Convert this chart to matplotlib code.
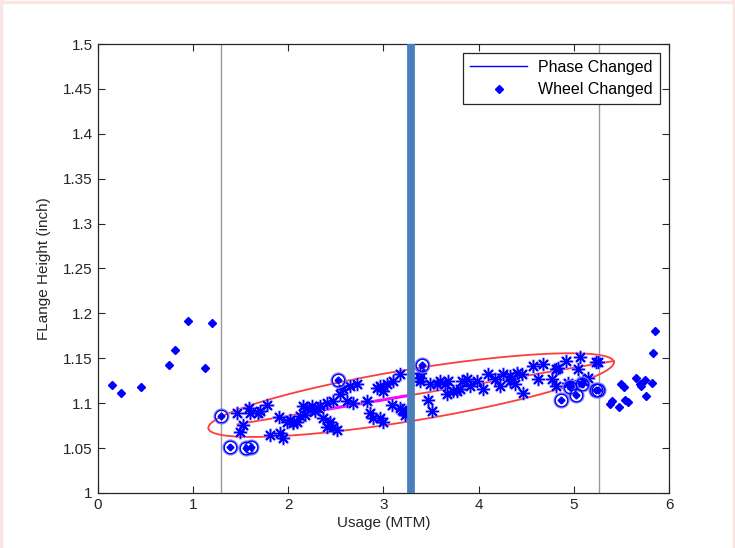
import numpy as np
import matplotlib
matplotlib.use("Agg")
import matplotlib.pyplot as plt
from matplotlib.lines import Line2D

plt.rcParams["font.family"] = ["Liberation Sans", "DejaVu Sans"]

# wheels changed (outside the usage window)
wheel_x = [0.155, 0.25, 0.457, 0.747, 0.816, 0.953, 1.131, 1.205,
           5.85, 5.836, 5.826, 5.763, 5.71, 5.748, 5.658, 5.69,
           5.567, 5.535, 5.475, 5.402, 5.375, 5.50, 5.528]
wheel_y = [1.120, 1.111, 1.118, 1.142, 1.159, 1.191, 1.139, 1.189,
           1.180, 1.156, 1.122, 1.108, 1.119, 1.126, 1.128, 1.121,
           1.101, 1.103, 1.096, 1.102, 1.099, 1.121, 1.118]

# measurements inside the window
meas_x = [1.461, 1.593, 1.600, 1.705, 1.775, 1.530, 1.495, 1.810, 1.915, 1.950,
          1.908, 2.020, 2.090, 2.125, 2.195, 2.248, 2.282, 2.335, 2.405, 2.369,
          2.440, 2.474, 2.510, 2.405, 2.545, 2.579, 2.650, 2.720, 2.474, 2.615,
          2.684, 2.825, 2.859, 2.894, 2.964, 2.999, 2.930, 2.999, 3.035, 3.104,
          3.174, 3.087, 3.192, 3.227, 3.384, 3.489, 3.559, 3.646, 3.471, 3.507,
          3.733, 3.822, 3.909, 3.979, 4.048, 4.101, 4.171, 4.258, 4.328, 4.381,
          4.451, 4.223, 4.468, 4.573, 4.678, 4.625, 4.766, 4.818, 4.835, 4.923,
          5.063, 5.045, 5.238, 4.940, 5.010, 5.098, 5.150, 3.804, 3.681, 3.874,
          2.964, 3.174, 3.245, 3.384, 1.687, 2.055, 3.594, 4.328, 4.399, 4.818,
          3.664, 3.769, 3.384, 1.985, 2.055, 2.177, 2.230, 2.317, 2.160, 5.256]
meas_y = [1.089, 1.0946, 1.089, 1.0909, 1.0984, 1.0758, 1.0683, 1.0646, 1.0664, 1.0607,
          1.0841, 1.0815, 1.0796, 1.0852, 1.0946, 1.0965, 1.0909, 1.0965, 1.1002, 1.0833,
          1.0796, 1.0739, 1.0702, 1.0739, 1.1097, 1.1153, 1.1191, 1.1210, 1.1021, 1.1021,
          1.1002, 1.1021, 1.0889, 1.0833, 1.0833, 1.0796, 1.1172, 1.1134, 1.1210, 1.1247,
          1.1323, 1.0984, 1.0928, 1.0871, 1.1284, 1.1210, 1.1210, 1.1210, 1.1041, 1.0909,
          1.1134, 1.1247, 1.1191, 1.1247, 1.1153, 1.1323, 1.1266, 1.1323, 1.1247, 1.1210,
          1.1323, 1.1191, 1.1115, 1.1416, 1.1436, 1.1266, 1.1266, 1.1191, 1.1397, 1.1473,
          1.1510, 1.1379, 1.1454, 1.1228, 1.1191, 1.1247, 1.1284, 1.1153, 1.1247, 1.1266,
          1.1191, 1.0946, 1.0889, 1.1341, 1.089, 1.0796, 1.1247, 1.1303, 1.1341, 1.1379,
          1.1097, 1.1134, 1.1247, 1.0796, 1.0777, 1.0871, 1.0928, 1.0946, 1.0965, 1.1454]

# circled points
circ_x = [1.296, 1.394, 1.558, 1.607, 2.520, 3.405, 4.869, 5.024, 4.961, 5.087, 5.234, 5.259]
circ_y = [1.0856, 1.051, 1.050, 1.051, 1.1258, 1.1428, 1.1036, 1.1086, 1.118, 1.1217, 1.1142, 1.1142]

# usage window and phase change
window_x = [1.30, 5.26]
phase_x = 3.295

# ellipse and its main axis
ell_cx, ell_cy = 3.292, 1.109
ell_a, ell_tilt, ell_b = 2.129, 0.0365, 0.029
axis_x = [1.47, 5.42]
axis_y = [1.0765, 1.147]
seg_x = [2.37, 3.29]
seg_y = [1.0925, 1.109]

fig = plt.figure(figsize=(7.35, 5.48), dpi=100)
ax = fig.add_axes([0.1327, 0.1004, 0.7776, 0.8193])

for xv in window_x:
    ax.axvline(xv, color="#999999", lw=1.0, zorder=1)

t = np.linspace(0, 2 * np.pi, 300)
ax.plot(ell_cx + ell_a * np.cos(t), ell_cy + ell_tilt * np.cos(t) + ell_b * np.sin(t),
        color="#ff3c3c", lw=1.3, zorder=2)
ax.plot(axis_x, axis_y, color="#ff3c3c", lw=1.3, zorder=2)
ax.plot(seg_x, seg_y, color="#ff00ff", lw=2.2, zorder=2)

# soft halo then the asterisks
ax.plot(meas_x, meas_y, ls="none", marker=(8, 2, 0), ms=10, mew=2.2,
        color="#9a9aff", alpha=0.5, zorder=3)
ax.plot(meas_x, meas_y, ls="none", marker=(8, 2, 0), ms=9, mew=1.0,
        color="#0000ff", zorder=3)
ax.plot(circ_x, circ_y, ls="none", marker="o", ms=10, mfc="none", mew=1.6,
        color="#8080ff", zorder=3)
ax.plot(circ_x, circ_y, ls="none", marker="o", ms=9, mfc="none", mew=0.9,
        color="#0000ff", zorder=3)
ax.plot(circ_x, circ_y, ls="none", marker="D", ms=3.5, color="#0000ff", zorder=3)
ax.plot(wheel_x, wheel_y, ls="none", marker="D", ms=4.2, color="#0000ff", zorder=3)

ax.axvline(phase_x, color="#4a7ebb", lw=5.6, solid_capstyle="butt", zorder=5, clip_on=False)

ax.set_xlim(0, 6)
ax.set_ylim(1, 1.5)
ax.set_xticks(np.arange(0, 7, 1))
ax.set_yticks(np.arange(1, 1.501, 0.05))
ax.set_yticklabels(["1", "1.05", "1.1", "1.15", "1.2", "1.25", "1.3", "1.35", "1.4", "1.45", "1.5"])
ax.tick_params(direction="in", top=True, right=True, length=5, width=0.8,
               labelsize=11, colors="#262626")
for sp in ax.spines.values():
    sp.set_color("#262626")
    sp.set_linewidth(0.9)
ax.set_xlabel("Usage (MTM)", fontsize=11, color="#262626", labelpad=3)
ax.set_ylabel("FLange Height (inch)", fontsize=11, color="#262626")
ax.yaxis.set_label_coords(-0.082, 0.5)

handles = [Line2D([], [], color="#0000ff", lw=1.0),
           Line2D([], [], ls="none", marker="D", ms=4, color="#0000ff")]
leg = ax.legend(handles, ["Phase Changed", "Wheel Changed"], loc="upper right",
                fontsize=11.5, fancybox=False, edgecolor="#262626", framealpha=1,
                borderaxespad=0.55, handlelength=3.6, labelspacing=0.45,
                borderpad=0.45, handletextpad=0.7)
leg.get_frame().set_linewidth(0.9)
leg.set_zorder(6)

# slide border
for xs, ys in [([0, 1], [0.997, 0.997]), ([0.002, 0.002], [0, 1]), ([0.998, 0.998], [0, 1])]:
    fig.add_artist(Line2D(xs, ys, transform=fig.transFigure, color="#fbe4e4", lw=2.5))

fig.savefig("out.png", dpi=100)
